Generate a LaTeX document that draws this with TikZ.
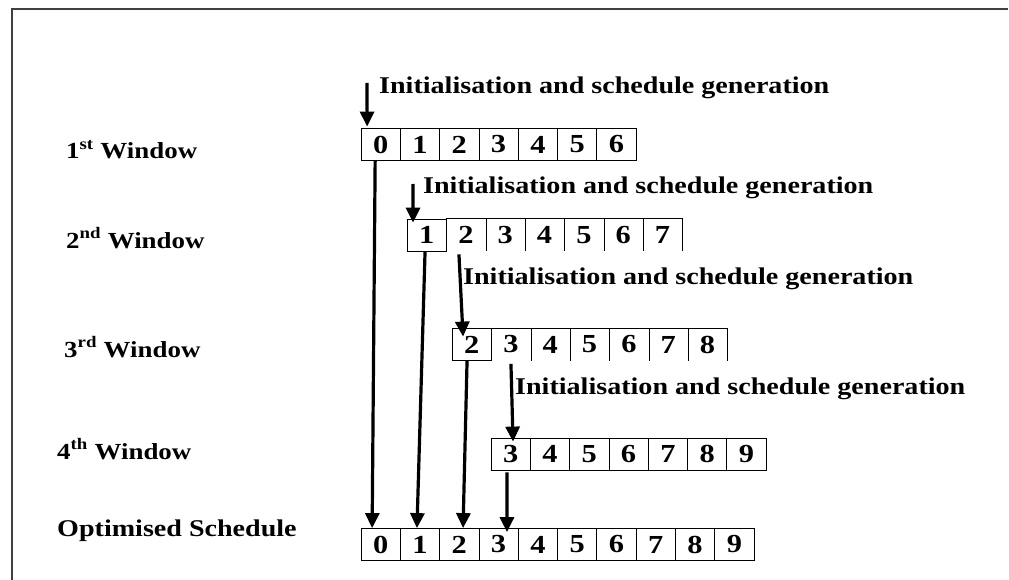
\documentclass[tikz,border=0pt]{standalone}
\usepackage{fontspec}
\setmainfont[FakeStretch=1.17]{Liberation Serif}
\usetikzlibrary{arrows.meta}
\begin{document}
\begin{tikzpicture}[x=1pt,y=-1pt,
  cell/.style={minimum width=39.3pt,minimum height=32pt,inner sep=0pt,font=\fontsize{26}{26}\selectfont\bfseries,line width=0.8pt},
  cline/.style={line width=0.8pt},
  lbl/.style={anchor=base west,inner sep=0pt,font=\fontsize{23}{23}\selectfont\bfseries},
  itext/.style={anchor=base west,inner sep=0pt,font=\fontsize{24}{24}\selectfont\bfseries},
  arr/.style={line width=3.2pt,-{Triangle[length=15pt,width=14pt]}}]
\useasboundingbox (0,0) rectangle (1009,580);
\draw[line width=1.2pt,black!75] (12,580) -- (12,9) -- (1008,9);
% row 1
\foreach \d in {0,...,6} \node[cell,draw] (r1c\d) at ({361+39.3*(\d+0.5)},144.5) {\d};
% row 2
\node[cell,draw] (r2c1) at ({407+39.3*0.5},235) {1};
\foreach \d in {2,...,7} {
  \node[cell] (r2c\d) at ({407+39.3*(\d-1+0.5)},235) {\d};
  \draw[cline] (r2c\d.north west) -- (r2c\d.north east) -- (r2c\d.south east);
}
% row 3
\node[cell,draw] (r3c2) at ({452+39.3*0.5},344.5) {2};
\foreach \d in {3,...,8} {
  \node[cell] (r3c\d) at ({452+39.3*(\d-2+0.5)},344.5) {\d};
  \draw[cline] (r3c\d.north west) -- (r3c\d.north east) -- (r3c\d.south east);
}
% row 4
\foreach \d in {3,...,9} \node[cell,draw] (r4c\d) at ({491+39.3*(\d-3+0.5)},454) {\d};
% row 5
\foreach \d in {0,...,9} \node[cell,draw] (r5c\d) at ({361+39.3*(\d+0.5)},544.5) {\d};
% labels
\node[lbl] (l1) at (66,159) {1\textsuperscript{st} Window};
\node[lbl] (l2) at (66,248) {2\textsuperscript{nd} Window};
\node[lbl] (l3) at (64,357) {3\textsuperscript{rd} Window};
\node[lbl] (l4) at (57,459) {4\textsuperscript{th} Window};
\node[lbl,font=\fontsize{24}{24}\selectfont\bfseries] (l5) at (57,536) {Optimised Schedule};
% initialisation texts
\node[itext] (t1) at (379,94) {Initialisation and schedule generation};
\node[itext] (t2) at (423,194) {Initialisation and schedule generation};
\node[itext] (t3) at (463,284) {Initialisation and schedule generation};
\node[itext] (t4) at (515,394) {Initialisation and schedule generation};
% initialisation arrows
\coordinate (s1) at (367,83);
\coordinate (s2) at (413,184);
\draw[arr] (s1) -- ([xshift=-13.5pt,yshift=1.5pt]r1c0.north);
\draw[arr] (s2) -- ([xshift=-13.6pt,yshift=-4pt]r2c1.north);
\draw[arr] ([xshift=-7pt,yshift=-3pt]r2c2.south) -- ([xshift=-8.6pt,yshift=-8.5pt]r3c2.north);
\draw[arr] ([yshift=-3pt]r3c3.south) -- ([xshift=2.4pt,yshift=-4pt]r4c3.north);
% result arrows
\draw[arr] ([xshift=-5.5pt]r1c0.south) -- ([xshift=-8.5pt]r5c0.north);
\draw[arr] ([xshift=-1.6pt]r2c1.south) -- ([xshift=-3pt]r5c1.north);
\draw[arr] ([xshift=-4.6pt]r3c2.south) -- ([xshift=3.8pt]r5c2.north);
\draw[arr] ([xshift=-3.6pt,yshift=-2pt]r4c3.south) -- ([xshift=8.4pt,yshift=-4pt]r5c3.north);
\end{tikzpicture}
\end{document}
